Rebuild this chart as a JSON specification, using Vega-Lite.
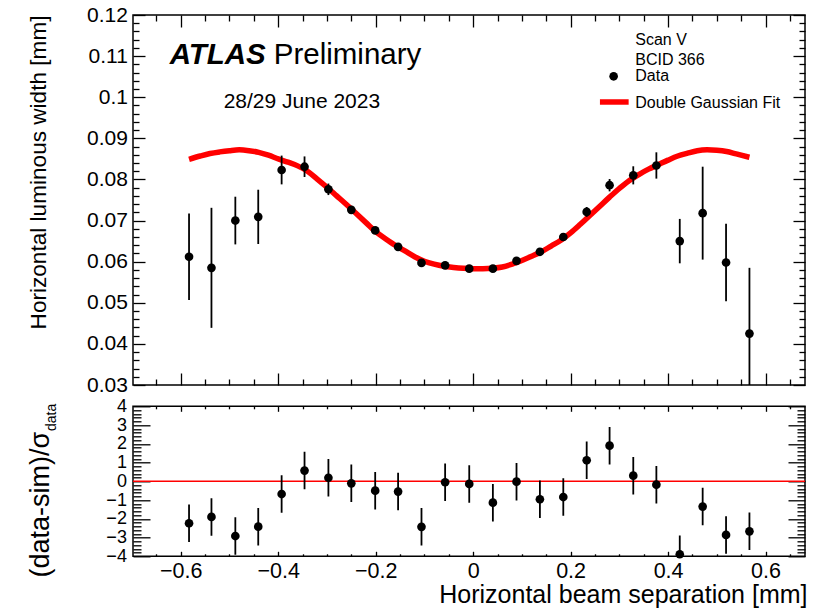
{
  "$schema": "https://vega.github.io/schema/vega-lite/v6.json",
  "background": "white",
  "padding": {"left": 25, "top": 3, "right": 5, "bottom": 5},
  "spacing": 21.3,
  "bounds": "flush",
  "config": {
    "font": "Liberation Sans",
    "view": {"stroke": "black", "strokeWidth": 1.5},
    "axis": {"domain": false, "grid": false, "tickColor": "black", "tickWidth": 1.3, "labelColor": "black", "titleColor": "black", "labelFont": "Liberation Sans", "titleFont": "Liberation Sans", "titleFontWeight": "normal", "labelOverlap": false, "labelBound": false, "labelFlush": false}
  },
  "datasets": {
    "meas": [
      {"x": -0.583, "w": 0.0612, "werr": 0.0105, "res": -2.24, "rerr": 1},
      {"x": -0.537, "w": 0.0585, "werr": 0.0146, "res": -1.90, "rerr": 1},
      {"x": -0.488, "w": 0.0700, "werr": 0.0058, "res": -2.92, "rerr": 1},
      {"x": -0.441, "w": 0.0709, "werr": 0.0066, "res": -2.42, "rerr": 1},
      {"x": -0.393, "w": 0.0823, "werr": 0.0035, "res": -0.68, "rerr": 1},
      {"x": -0.346, "w": 0.0831, "werr": 0.0025, "res": 0.57, "rerr": 1},
      {"x": -0.297, "w": 0.0776, "werr": 0.0014, "res": 0.19, "rerr": 1},
      {"x": -0.250, "w": 0.0726, "werr": 0.0006, "res": -0.11, "rerr": 1},
      {"x": -0.201, "w": 0.0676, "werr": 0.0006, "res": -0.50, "rerr": 1},
      {"x": -0.154, "w": 0.0636, "werr": 0.0005, "res": -0.55, "rerr": 1},
      {"x": -0.106, "w": 0.0597, "werr": 0.0004, "res": -2.43, "rerr": 1},
      {"x": -0.0575, "w": 0.0591, "werr": 0.0004, "res": -0.05, "rerr": 1},
      {"x": -0.008, "w": 0.0583, "werr": 0.0004, "res": -0.14, "rerr": 1},
      {"x": 0.0405, "w": 0.0583, "werr": 0.0004, "res": -1.14, "rerr": 1},
      {"x": 0.089, "w": 0.0602, "werr": 0.0004, "res": -0.02, "rerr": 1},
      {"x": 0.137, "w": 0.0624, "werr": 0.0005, "res": -0.96, "rerr": 1},
      {"x": 0.185, "w": 0.0660, "werr": 0.0006, "res": -0.84, "rerr": 1},
      {"x": 0.233, "w": 0.0721, "werr": 0.0012, "res": 1.12, "rerr": 1},
      {"x": 0.280, "w": 0.0786, "werr": 0.0015, "res": 1.90, "rerr": 1},
      {"x": 0.3286, "w": 0.0810, "werr": 0.0022, "res": 0.30, "rerr": 1},
      {"x": 0.376, "w": 0.0834, "werr": 0.0032, "res": -0.18, "rerr": 1},
      {"x": 0.424, "w": 0.0650, "werr": 0.0054, "res": -3.89, "rerr": 1},
      {"x": 0.471, "w": 0.0718, "werr": 0.0113, "res": -1.35, "rerr": 1},
      {"x": 0.519, "w": 0.0598, "werr": 0.0094, "res": -2.86, "rerr": 1},
      {"x": 0.567, "w": 0.0425, "werr": 0.0160, "res": -2.67, "rerr": 1}
    ],
    "fit": [
      {"x": -0.583, "w": 0.0849}, {"x": -0.56, "w": 0.0857}, {"x": -0.54, "w": 0.0863}, {"x": -0.52, "w": 0.0867},
      {"x": -0.50, "w": 0.0870}, {"x": -0.48, "w": 0.0872}, {"x": -0.46, "w": 0.0870}, {"x": -0.44, "w": 0.0866},
      {"x": -0.42, "w": 0.0859}, {"x": -0.40, "w": 0.0850}, {"x": -0.38, "w": 0.0842}, {"x": -0.36, "w": 0.0833},
      {"x": -0.34, "w": 0.0820}, {"x": -0.32, "w": 0.0801}, {"x": -0.30, "w": 0.0781}, {"x": -0.28, "w": 0.0760},
      {"x": -0.26, "w": 0.0739}, {"x": -0.24, "w": 0.0717}, {"x": -0.22, "w": 0.0695}, {"x": -0.20, "w": 0.0673},
      {"x": -0.18, "w": 0.0656}, {"x": -0.16, "w": 0.0640}, {"x": -0.14, "w": 0.0626}, {"x": -0.12, "w": 0.0612},
      {"x": -0.10, "w": 0.0601}, {"x": -0.08, "w": 0.0594}, {"x": -0.06, "w": 0.0589}, {"x": -0.04, "w": 0.0586},
      {"x": -0.02, "w": 0.0584}, {"x": 0.00, "w": 0.0583}, {"x": 0.02, "w": 0.0583}, {"x": 0.04, "w": 0.0584},
      {"x": 0.06, "w": 0.0587}, {"x": 0.08, "w": 0.0594}, {"x": 0.10, "w": 0.0603}, {"x": 0.12, "w": 0.0613},
      {"x": 0.14, "w": 0.0624}, {"x": 0.16, "w": 0.0638}, {"x": 0.18, "w": 0.0652}, {"x": 0.20, "w": 0.0670},
      {"x": 0.22, "w": 0.0691}, {"x": 0.24, "w": 0.0713}, {"x": 0.26, "w": 0.0735}, {"x": 0.28, "w": 0.0757},
      {"x": 0.30, "w": 0.0778}, {"x": 0.32, "w": 0.0797}, {"x": 0.34, "w": 0.0812}, {"x": 0.36, "w": 0.0825},
      {"x": 0.38, "w": 0.0836}, {"x": 0.40, "w": 0.0847}, {"x": 0.42, "w": 0.0857}, {"x": 0.44, "w": 0.0864},
      {"x": 0.46, "w": 0.0870}, {"x": 0.48, "w": 0.0872}, {"x": 0.50, "w": 0.0871}, {"x": 0.52, "w": 0.0868},
      {"x": 0.54, "w": 0.0862}, {"x": 0.567, "w": 0.0854}
    ]
  },
  "vconcat": [
    {
      "width": 672,
      "height": 370,
      "layer": [
        {
          "data": {"name": "fit"},
          "mark": {"type": "line", "color": "#ff0000", "strokeWidth": 5.5, "interpolate": "monotone"},
          "encoding": {
            "x": {"field": "x", "type": "quantitative", "scale": {"domain": [-0.698, 0.681], "nice": false, "zero": false},
              "axis": {"orient": "bottom", "labels": false, "title": null,
                "values": [-0.65,-0.6,-0.55,-0.5,-0.45,-0.4,-0.35,-0.3,-0.25,-0.2,-0.15,-0.1,-0.05,0,0.05,0.1,0.15,0.2,0.25,0.3,0.35,0.4,0.45,0.5,0.55,0.6,0.65],
                "tickSize": {"condition": {"test": "abs(datum.value*5 - round(datum.value*5)) < 0.01", "value": -12}, "value": -6}}},
            "y": {"field": "w", "type": "quantitative", "scale": {"domain": [0.03, 0.12], "nice": false, "zero": false},
              "axis": {"orient": "left", "format": "~g",
                "values": [0.03,0.032,0.034,0.036,0.038,0.04,0.042,0.044,0.046,0.048,0.05,0.052,0.054,0.056,0.058,0.06,0.062,0.064,0.066,0.068,0.07,0.072,0.074,0.076,0.078,0.08,0.082,0.084,0.086,0.088,0.09,0.092,0.094,0.096,0.098,0.1,0.102,0.104,0.106,0.108,0.11,0.112,0.114,0.116,0.118,0.12],
                "labelExpr": "abs(datum.value*100 - round(datum.value*100)) < 0.01 ? datum.label : ''",
                "labelFontSize": 21, "labelPadding": 17.6,
                "tickSize": {"condition": {"test": "abs(datum.value*100 - round(datum.value*100)) < 0.01", "value": -12}, "value": -6},
                "title": "Horizontal luminous width [mm]", "titleFontSize": 22.6, "titleAnchor": "end", "titleAlign": "right", "titleBaseline": "alphabetic", "titleX": -87.8, "titleY": 0}}
          }
        },
        {
          "data": {"name": "meas"},
          "mark": {"type": "errorbar", "color": "black", "thickness": 1.8, "clip": true},
          "encoding": {
            "x": {"field": "x", "type": "quantitative", "scale": {"domain": [-0.698, 0.681], "nice": false, "zero": false}, "axis": null},
            "y": {"field": "w", "type": "quantitative", "scale": {"domain": [0.03, 0.12], "nice": false, "zero": false}, "axis": null},
            "yError": {"field": "werr"}
          }
        },
        {
          "data": {"name": "meas"},
          "mark": {"type": "circle", "size": 75, "color": "black", "opacity": 1},
          "encoding": {
            "x": {"field": "x", "type": "quantitative", "scale": {"domain": [-0.698, 0.681], "nice": false, "zero": false},
              "axis": {"orient": "top", "labels": false, "title": null,
                "values": [-0.65,-0.6,-0.55,-0.5,-0.45,-0.4,-0.35,-0.3,-0.25,-0.2,-0.15,-0.1,-0.05,0,0.05,0.1,0.15,0.2,0.25,0.3,0.35,0.4,0.45,0.5,0.55,0.6,0.65],
                "tickSize": {"condition": {"test": "abs(datum.value*5 - round(datum.value*5)) < 0.01", "value": -12}, "value": -6}}},
            "y": {"field": "w", "type": "quantitative", "scale": {"domain": [0.03, 0.12], "nice": false, "zero": false},
              "axis": {"orient": "right", "labels": false, "title": null,
                "values": [0.03,0.032,0.034,0.036,0.038,0.04,0.042,0.044,0.046,0.048,0.05,0.052,0.054,0.056,0.058,0.06,0.062,0.064,0.066,0.068,0.07,0.072,0.074,0.076,0.078,0.08,0.082,0.084,0.086,0.088,0.09,0.092,0.094,0.096,0.098,0.1,0.102,0.104,0.106,0.108,0.11,0.112,0.114,0.116,0.118,0.12],
                "tickSize": {"condition": {"test": "abs(datum.value*100 - round(datum.value*100)) < 0.01", "value": -12}, "value": -6}}}
          }
        },
        {
          "data": {"values": [{}]},
          "mark": {"type": "text", "text": "ATLAS", "fontSize": 29.5, "fontStyle": "italic", "fontWeight": "bold", "align": "left", "baseline": "alphabetic", "color": "black"},
          "encoding": {"x": {"datum": -0.6228, "type": "quantitative", "axis": null}, "y": {"datum": 0.10808, "type": "quantitative", "axis": null}}
        },
        {
          "data": {"values": [{}]},
          "mark": {"type": "text", "text": "Preliminary", "fontSize": 29.5, "align": "left", "baseline": "alphabetic", "color": "black"},
          "encoding": {"x": {"datum": -0.4092, "type": "quantitative", "axis": null}, "y": {"datum": 0.10808, "type": "quantitative", "axis": null}}
        },
        {
          "data": {"values": [{}]},
          "mark": {"type": "text", "text": "28/29 June 2023", "fontSize": 21, "align": "left", "baseline": "alphabetic", "color": "black"},
          "encoding": {"x": {"datum": -0.512, "type": "quantitative", "axis": null}, "y": {"datum": 0.09738, "type": "quantitative", "axis": null}}
        },
        {
          "data": {"values": [{"t": "Scan V", "ly": 0.11263}, {"t": "BCID 366", "ly": 0.10784}, {"t": "Data", "ly": 0.10395}, {"t": "Double Gaussian Fit", "ly": 0.09730}]},
          "mark": {"type": "text", "fontSize": 16, "align": "left", "baseline": "alphabetic", "color": "black"},
          "encoding": {"x": {"datum": 0.3327, "type": "quantitative", "axis": null}, "y": {"field": "ly", "type": "quantitative", "axis": null}, "text": {"field": "t"}}
        },
        {
          "data": {"values": [{}]},
          "mark": {"type": "circle", "size": 75, "color": "black", "opacity": 1},
          "encoding": {"x": {"datum": 0.2883, "type": "quantitative", "axis": null}, "y": {"datum": 0.10509, "type": "quantitative", "axis": null}}
        },
        {
          "data": {"values": [{}]},
          "mark": {"type": "rule", "color": "#ff0000", "strokeWidth": 5.5},
          "encoding": {"x": {"datum": 0.2602, "type": "quantitative", "axis": null}, "x2": {"datum": 0.3191}, "y": {"datum": 0.09884, "type": "quantitative", "axis": null}}
        }
      ],
      "resolve": {"axis": {"x": "independent", "y": "independent"}}
    },
    {
      "width": 672,
      "height": 150,
      "layer": [
        {
          "data": {"values": [{}]},
          "mark": {"type": "rule", "color": "#ff0000", "strokeWidth": 1.5},
          "encoding": {"y": {"datum": 0, "type": "quantitative", "scale": {"domain": [-4, 4], "nice": false, "zero": false}, "axis": null}}
        },
        {
          "data": {"name": "meas"},
          "mark": {"type": "errorbar", "color": "black", "thickness": 1.8, "clip": true},
          "encoding": {
            "x": {"field": "x", "type": "quantitative", "scale": {"domain": [-0.698, 0.681], "nice": false, "zero": false},
              "axis": {"orient": "top", "labels": false, "title": null,
                "values": [-0.65,-0.6,-0.55,-0.5,-0.45,-0.4,-0.35,-0.3,-0.25,-0.2,-0.15,-0.1,-0.05,0,0.05,0.1,0.15,0.2,0.25,0.3,0.35,0.4,0.45,0.5,0.55,0.6,0.65],
                "tickSize": {"condition": {"test": "abs(datum.value*5 - round(datum.value*5)) < 0.01", "value": -5}, "value": -2.5}}},
            "y": {"field": "res", "type": "quantitative", "scale": {"domain": [-4, 4], "nice": false, "zero": false},
              "axis": {"orient": "right", "labels": false, "title": null,
                "values": [-4,-3.8,-3.6,-3.4,-3.2,-3,-2.8,-2.6,-2.4,-2.2,-2,-1.8,-1.6,-1.4,-1.2,-1,-0.8,-0.6,-0.4,-0.2,0,0.2,0.4,0.6,0.8,1,1.2,1.4,1.6,1.8,2,2.2,2.4,2.6,2.8,3,3.2,3.4,3.6,3.8,4],
                "tickSize": {"condition": {"test": "abs(datum.value - round(datum.value)) < 0.01", "value": -17}, "value": -8}}},
            "yError": {"field": "rerr"}
          }
        },
        {
          "data": {"name": "meas"},
          "mark": {"type": "circle", "size": 75, "color": "black", "opacity": 1},
          "encoding": {
            "x": {"field": "x", "type": "quantitative", "scale": {"domain": [-0.698, 0.681], "nice": false, "zero": false},
              "axis": {"orient": "bottom", "format": "~g",
                "values": [-0.65,-0.6,-0.55,-0.5,-0.45,-0.4,-0.35,-0.3,-0.25,-0.2,-0.15,-0.1,-0.05,0,0.05,0.1,0.15,0.2,0.25,0.3,0.35,0.4,0.45,0.5,0.55,0.6,0.65],
                "labelExpr": "abs(datum.value*5 - round(datum.value*5)) < 0.01 ? datum.label : ''",
                "labelFontSize": 21.5, "labelPadding": 9,
                "tickSize": {"condition": {"test": "abs(datum.value*5 - round(datum.value*5)) < 0.01", "value": -5}, "value": -2.5},
                "title": "Horizontal beam separation [mm]", "titleFontSize": 25, "titleAnchor": "end", "titleAlign": "right", "titleBaseline": "alphabetic", "titleX": 674, "titleY": 46.5}},
            "y": {"field": "res", "type": "quantitative", "scale": {"domain": [-4, 4], "nice": false, "zero": false},
              "axis": {"orient": "left", "format": "~g",
                "values": [-4,-3.8,-3.6,-3.4,-3.2,-3,-2.8,-2.6,-2.4,-2.2,-2,-1.8,-1.6,-1.4,-1.2,-1,-0.8,-0.6,-0.4,-0.2,0,0.2,0.4,0.6,0.8,1,1.2,1.4,1.6,1.8,2,2.2,2.4,2.6,2.8,3,3.2,3.4,3.6,3.8,4],
                "labelExpr": "abs(datum.value - round(datum.value)) < 0.01 ? datum.label : ''",
                "labelFontSize": 18, "labelPadding": 23.6,
                "tickSize": {"condition": {"test": "abs(datum.value - round(datum.value)) < 0.01", "value": -17}, "value": -8},
                "title": "(data-sim)/σ", "titleFontSize": 27, "titleAnchor": "end", "titleAlign": "right", "titleBaseline": "alphabetic", "titleX": -84.6, "titleY": 25}}
          }
        },
        {
          "data": {"values": [{}]},
          "mark": {"type": "text", "text": "data", "fontSize": 14, "angle": 270, "align": "left", "baseline": "alphabetic", "color": "black"},
          "encoding": {"x": {"datum": -0.857, "type": "quantitative", "axis": null}, "y": {"datum": 2.683, "type": "quantitative", "axis": null}}
        }
      ],
      "resolve": {"axis": {"x": "independent", "y": "independent"}}
    }
  ]
}
